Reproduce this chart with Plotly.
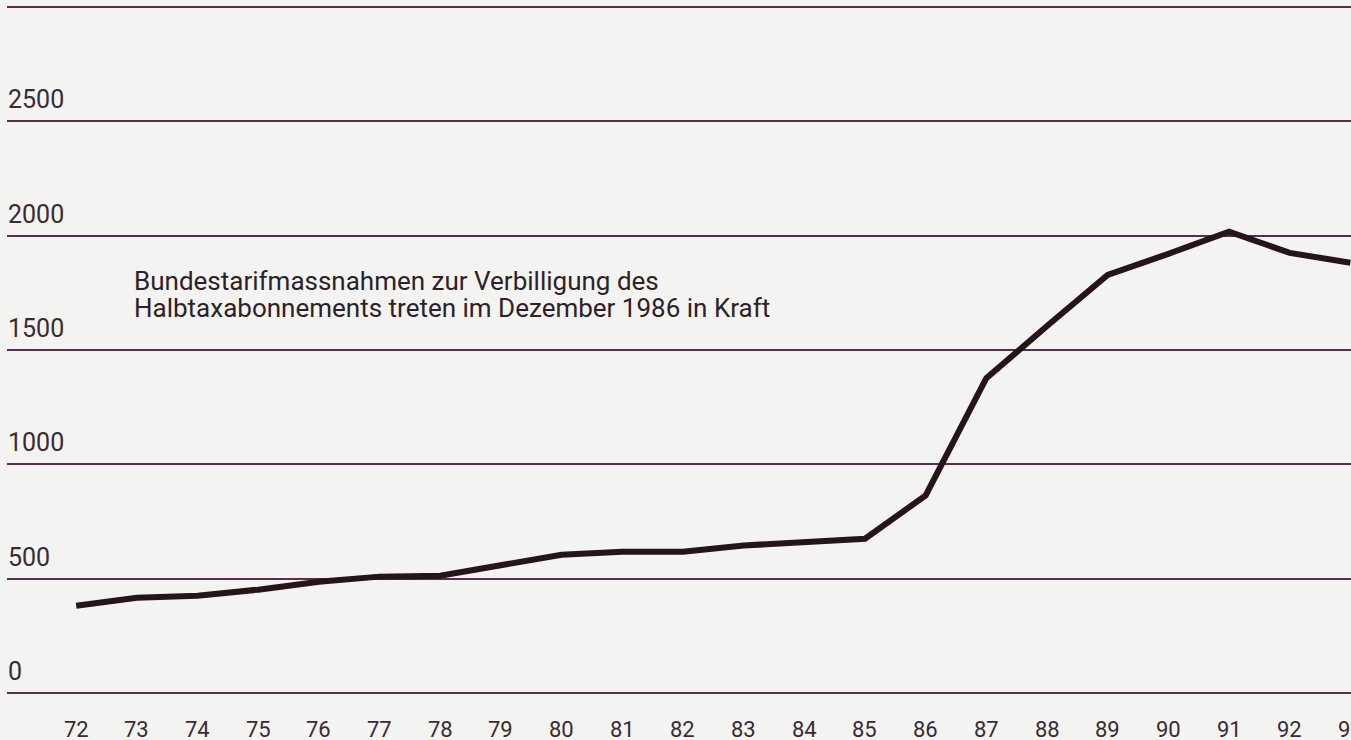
import plotly.graph_objects as go

years = [72, 73, 74, 75, 76, 77, 78, 79, 80, 81, 82, 83, 84, 85, 86, 87, 88, 89, 90, 91, 92, 93]
values = [382, 417, 425, 452, 487, 509, 513, 561, 605, 618, 618, 645, 662, 675, 864, 1377, 1605, 1829, 1921, 2018, 1925, 1882]
y_ticks = [0, 500, 1000, 1500, 2000, 2500, 3000]
y_labels = ["0", "500", "1000", "1500", "2000", "2500"]
x_labels = [str(y) for y in years]
note_lines = ["Bundestarifmassnahmen zur Verbilligung des",
              "Halbtaxabonnements treten im Dezember 1986 in Kraft"]
note_y = [1802, 1684]

FONT = "Roboto, sans-serif"
TXT = "#3a2a33"
GRID = "#5c2c4c"

fig = go.Figure()
fig.add_trace(go.Scatter(
    x=years, y=values, mode="lines",
    line=dict(color="#26141a", width=6),
    showlegend=False, hoverinfo="skip",
))

for v, lab in zip(y_ticks, y_labels):
    fig.add_annotation(
        x=0, xref="paper", xanchor="left", xshift=-1,
        y=v, yref="y", yanchor="bottom", yshift=5,
        text=lab, showarrow=False,
        font=dict(family=FONT, size=25, color=TXT),
    )

for xv, lab in zip(years, x_labels):
    fig.add_annotation(
        x=xv, xref="x", xanchor="center",
        y=0, yref="y", yanchor="top", yshift=-22,
        text=lab, showarrow=False,
        font=dict(family=FONT, size=22, color=TXT),
    )

for txt, yv in zip(note_lines, note_y):
    fig.add_annotation(
        x=72.92, xref="x", xanchor="left",
        y=yv, yref="y", yanchor="middle",
        text=txt, showarrow=False, align="left",
        font=dict(family=FONT, size=26, color="#2e1f28"),
    )

fig.update_layout(
    width=1351, height=740,
    margin=dict(l=7, r=0, t=3, b=47),
    paper_bgcolor="#f3f3f1", plot_bgcolor="#f3f3f1",
    xaxis=dict(
        range=[70.86, 93.01],
        showticklabels=False,
        showgrid=False, zeroline=False, showline=False,
    ),
    yaxis=dict(
        range=[0, 3018],
        tickmode="array", tickvals=y_ticks,
        showticklabels=False,
        showgrid=True, gridcolor=GRID, gridwidth=2,
        zeroline=True, zerolinecolor=GRID, zerolinewidth=2,
        showline=False,
    ),
)

fig.write_html(
    "out.html",
    config={"displayModeBar": False},
    post_script="document.body.style.margin='0';document.body.style.overflow='hidden';",
)
